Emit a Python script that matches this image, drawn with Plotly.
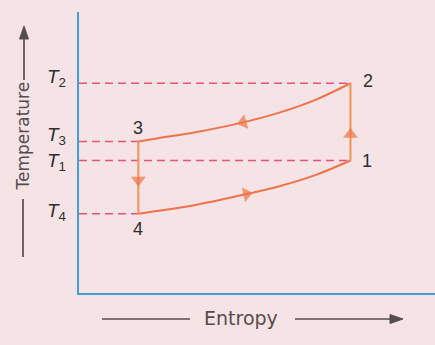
import plotly.graph_objects as go

# Entropy of the two isentropic legs (arbitrary units)
s_left = 2.0    # states 3 and 4
s_right = 9.15  # states 1 and 2

# State temperatures (arbitrary units)
T1, T2, T3, T4 = 6.6, 10.45, 7.55, 3.95

# High-pressure line 2 -> 3
s_23 = [9.15, 8.01, 6.78, 5.53, 3.97, 2.62, 2.0]
T_23 = [10.45, 9.65, 9.00, 8.50, 8.02, 7.70, 7.55]

# Low-pressure line 4 -> 1
s_41 = [2.0, 2.62, 3.97, 5.65, 6.78, 8.01, 9.15]
T_41 = [3.95, 4.08, 4.40, 4.93, 5.33, 5.90, 6.6]

# Direction markers on the vertical legs
T_arrow_34 = 5.63
T_arrow_12 = 7.9

temp_labels = ["T<sub>2</sub>", "T<sub>3</sub>", "T<sub>1</sub>", "T<sub>4</sub>"]
temp_values = [T2, T3, T1, T4]
temp_label_shift = [5, 5, -1, 2]

BG = "#f5e3e5"
AXIS = "#3f9fd6"
DASH = "#e5527c"
CURVE = "#ef7349"
VERT = "#f29352"
GREY = "#574d4f"
TEXT = "#2e2e2e"

# plot area in pixels (used to place decorations outside the axes)
PLOT_L, PLOT_T, PLOT_W, PLOT_H = 79, 12, 356, 281


def px(x, y):
    return (x - PLOT_L) / PLOT_W, (PLOT_T + PLOT_H - y) / PLOT_H


fig = go.Figure()

# dashed temperature guides
for T, s_end in [(T2, s_right), (T1, s_right), (T3, s_left), (T4, s_left)]:
    fig.add_trace(go.Scatter(x=[0, s_end], y=[T, T], mode="lines",
                             line=dict(color=DASH, width=1.6, dash="8px,5px"),
                             hoverinfo="skip"))

# cycle
fig.add_trace(go.Scatter(x=s_23, y=T_23, mode="lines",
                         line=dict(color=CURVE, width=2, shape="spline")))
fig.add_trace(go.Scatter(x=s_41, y=T_41, mode="lines",
                         line=dict(color=CURVE, width=2, shape="spline")))
fig.add_trace(go.Scatter(x=[s_left, s_left], y=[T3, T4], mode="lines",
                         line=dict(color=VERT, width=2)))
fig.add_trace(go.Scatter(x=[s_right, s_right], y=[T1, T2], mode="lines",
                         line=dict(color=VERT, width=2)))


def arrow(xs, ys, color):
    fig.add_trace(go.Scatter(
        x=xs, y=ys, mode="markers",
        marker=dict(symbol="triangle-up", angleref="previous",
                    size=[0, 13], color=color, line=dict(width=0)),
        hoverinfo="skip"))


arrow([s_23[2], s_23[3]], [T_23[2], T_23[3]], CURVE)
arrow([s_41[2], s_41[3]], [T_41[2], T_41[3]], CURVE)
arrow([s_left, s_left], [T3, T_arrow_34], CURVE)
arrow([s_right, s_right], [T1, T_arrow_12], CURVE)

annotations = []

# temperature labels on the left of the axis
for lab, T, dy in zip(temp_labels, temp_values, temp_label_shift):
    annotations.append(dict(
        x=-0.062, xref="paper", y=T, yref="y", text="<i>" + lab[0] + "</i>" + lab[1:],
        showarrow=False, xanchor="center", yanchor="middle", yshift=dy,
        font=dict(family="Liberation Sans", size=19, color=TEXT)))

# state numbers
for txt, x, y, dx, dy in [("2", s_right, T2, 18, 2), ("1", s_right, T1, 17, 0),
                          ("3", s_left, T3, 0, 13), ("4", s_left, T4, 0, -15)]:
    annotations.append(dict(
        x=x, y=y, xref="x", yref="y", text=txt, showarrow=False,
        xshift=dx, yshift=dy, xanchor="center", yanchor="middle",
        font=dict(family="Liberation Sans", size=18, color=TEXT)))

# axis titles
tx, ty = px(22, 136.5)
annotations.append(dict(
    x=tx, y=ty, xref="paper", yref="paper", text="Temperature",
    textangle=-90, showarrow=False, xanchor="center", yanchor="middle",
    font=dict(family="DejaVu Sans", size=17, color=GREY)))
ex, ey = px(241, 318)
annotations.append(dict(
    x=ex, y=ey, xref="paper", yref="paper", text="Entropy",
    showarrow=False, xanchor="center", yanchor="middle",
    font=dict(family="DejaVu Sans", size=19, color=GREY)))


def seg(x0, y0, x1, y1):
    a, b = px(x0, y0)
    c, d = px(x1, y1)
    return dict(type="line", xref="paper", yref="paper", x0=a, y0=b, x1=c, y1=d,
                line=dict(color=GREY, width=1.7))


def head(points):
    pts = [px(x, y) for x, y in points]
    path = "M " + " L ".join(f"{a:.5f},{b:.5f}" for a, b in pts) + " Z"
    return dict(type="path", xref="paper", yref="paper", path=path,
                fillcolor=GREY, line=dict(color=GREY, width=1))


shapes = [
    # Temperature arrow
    seg(24, 80, 24, 36),
    head([(24, 26), (19.5, 39), (28.5, 39)]),
    seg(23, 199, 23, 257),
    # Entropy arrow
    seg(102, 319, 190, 319),
    seg(295, 319, 392, 319),
    head([(403, 319), (390, 314.5), (390, 323.5)]),
]

fig.update_layout(
    width=435, height=345,
    margin=dict(l=PLOT_L, r=0, t=PLOT_T, b=345 - PLOT_T - PLOT_H),
    paper_bgcolor=BG, plot_bgcolor=BG,
    showlegend=False,
    annotations=annotations, shapes=shapes,
    xaxis=dict(range=[0, 12], showgrid=False, zeroline=False,
               showticklabels=False, ticks="", showline=True,
               linecolor=AXIS, linewidth=2, fixedrange=True),
    yaxis=dict(range=[0, 14], showgrid=False, zeroline=False,
               showticklabels=False, ticks="", showline=True,
               linecolor=AXIS, linewidth=2, fixedrange=True),
)

fig.write_html("out.html", config={"displayModeBar": False})
